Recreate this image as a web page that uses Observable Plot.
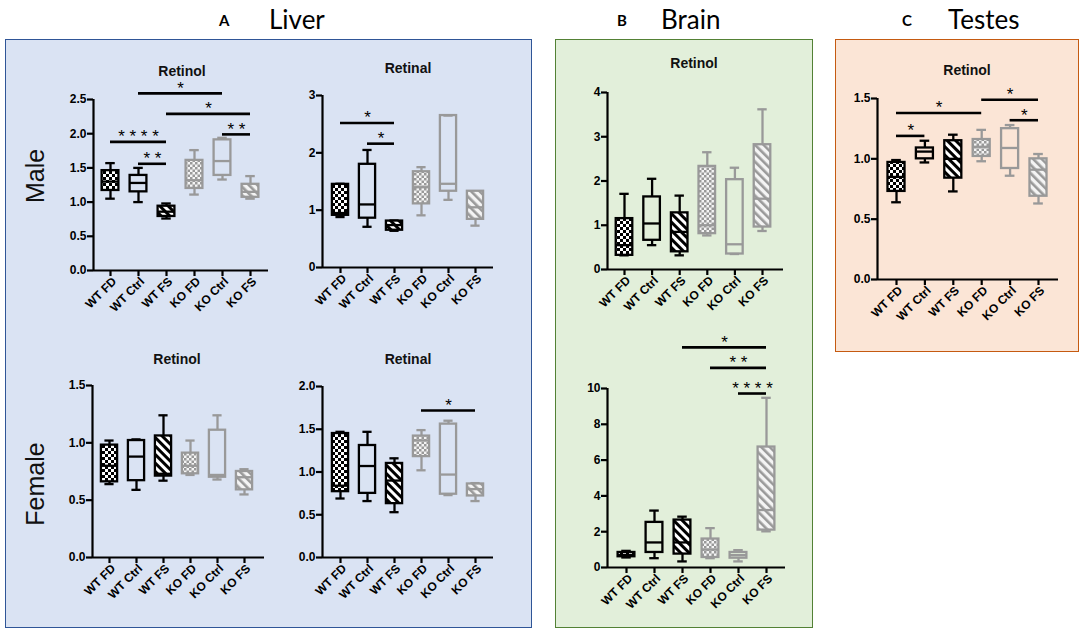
<!DOCTYPE html>
<html><head><meta charset="utf-8">
<script src="https://cdn.jsdelivr.net/npm/d3@7"></script>
<script src="https://cdn.jsdelivr.net/npm/@observablehq/plot@0.6"></script>
<style>
body{margin:0;background:#fff;}
#root{position:relative;width:1084px;height:635px;overflow:hidden;font-family:"Liberation Sans",Arial,sans-serif;background:#fff;}
.panel{position:absolute;box-sizing:border-box;}
.hdr{position:absolute;font-family:Lato,"Open Sans",sans-serif;line-height:1;white-space:nowrap;}
.ttl{position:absolute;transform:translate(-50%,-50%);font-weight:bold;font-size:14px;white-space:nowrap;color:#111;}
.side{position:absolute;font-size:25px;transform:translate(-50%,-50%) rotate(-90deg);white-space:nowrap;color:#111;}
.plot{position:absolute;}
</style></head><body><div id="root">
<svg width="0" height="0" style="position:absolute">
<defs>
<pattern id="chkK" width="6" height="6" patternUnits="userSpaceOnUse"><rect width="6" height="6" fill="#fff"/><rect width="3" height="3" fill="#000"/><rect x="3" y="3" width="3" height="3" fill="#000"/></pattern>
<pattern id="chkG" width="5" height="5" patternUnits="userSpaceOnUse"><rect width="5" height="5" fill="#f4f4f4"/><rect width="2.5" height="2.5" fill="#999"/><rect x="2.5" y="2.5" width="2.5" height="2.5" fill="#999"/></pattern>
<pattern id="strK" width="6" height="6" patternUnits="userSpaceOnUse" patternTransform="rotate(-45)"><rect width="6" height="6" fill="#fff"/><rect width="3" height="6" fill="#000"/></pattern>
<pattern id="strG" width="6" height="6" patternUnits="userSpaceOnUse" patternTransform="rotate(-45)"><rect width="6" height="6" fill="#f4f4f4"/><rect width="2.6" height="6" fill="#999"/></pattern>
</defs></svg>
</div>
<script>
// ---- data ----
const categories = ["WT FD", "WT Ctrl", "WT FS", "KO FD", "KO Ctrl", "KO FS"];
// each row: [min, q1, median, q3, max]
const liverMaleRetinol = [[1.05,1.17,1.30,1.46,1.57],[1.00,1.15,1.28,1.39,1.50],[0.76,0.79,0.86,0.94,0.98],[1.11,1.20,1.32,1.61,1.76],[1.33,1.39,1.60,1.91,1.94],[1.05,1.07,1.15,1.26,1.38]];
const liverMaleRetinal = [[0.88,0.91,0.95,1.45,1.46],[0.71,0.86,1.10,1.80,2.05],[0.64,0.65,0.74,0.81,0.82],[0.91,1.11,1.40,1.67,1.75],[1.18,1.33,1.46,2.65,2.65],[0.73,0.84,1.05,1.33,1.33]];
const liverFemaleRetinol = [[0.64,0.66,0.80,0.98,1.02],[0.59,0.67,0.88,1.02,1.03],[0.67,0.71,0.73,1.06,1.24],[0.72,0.73,0.80,0.91,1.02],[0.68,0.70,0.72,1.11,1.24],[0.55,0.59,0.70,0.75,0.77]];
const liverFemaleRetinal = [[0.69,0.77,0.84,1.45,1.47],[0.66,0.75,1.07,1.31,1.47],[0.53,0.63,0.90,1.10,1.16],[1.02,1.18,1.37,1.42,1.49],[0.73,0.74,0.97,1.56,1.60],[0.66,0.72,0.80,0.86,0.87]];
const brainRetinol = [[0.32,0.32,0.55,1.15,1.71],[0.55,0.66,1.04,1.64,2.05],[0.32,0.40,0.85,1.28,1.67],[0.77,0.81,1.00,2.33,2.65],[0.35,0.35,0.57,2.03,2.30],[0.87,0.96,1.60,2.82,3.62]];
const brainLower = [[0.56,0.60,0.70,0.84,0.93],[0.52,0.84,1.40,2.52,3.18],[0.34,0.75,1.40,2.65,2.84],[0.52,0.56,1.00,1.59,2.20],[0.34,0.52,0.69,0.84,0.97],[2.02,2.09,3.21,6.73,9.48]];
const testesRetinol = [[0.64,0.73,0.85,0.97,0.99],[0.97,1.00,1.06,1.09,1.15],[0.73,0.84,1.00,1.15,1.20],[0.98,1.02,1.10,1.16,1.24],[0.86,0.92,1.09,1.25,1.28],[0.63,0.69,0.91,1.00,1.04]];
// significance bars: [from group, to group, y, label]
const liverMaleRetinolSig = [[1,4,2.59,"*"],[2,5,2.29,"*"],[4,5,1.99,"**"],[0,2,1.88,"****"],[1,2,1.56,"**"]];
const liverMaleRetinalSig = [[0,2,2.52,"*"],[1,2,2.16,"*"]];
const liverFemaleRetinalSig = [[3,5,1.72,"*"]];
const brainLowerSig = [[2,5,12.3,"*"],[3,5,11.15,"**"],[4,5,9.72,"****"]];
const testesRetinolSig = [[0,3,1.38,"*"],[0,1,1.19,"*"],[3,5,1.49,"*"],[4,5,1.32,"*"]];
const ticksA = [0,0.5,1,1.5,2,2.5], ticksB = [0,1,2,3], ticksC = [0,0.5,1,1.5], ticksD = [0,0.5,1,1.5,2], ticksE = [0,1,2,3,4], ticksF = [0,2,4,6,8,10];

// ---- layout ----
const root = document.getElementById("root");
function div(cls, style, text) {
  const d = document.createElement("div");
  d.className = cls; Object.assign(d.style, style); if (text != null) d.textContent = text;
  root.appendChild(d); return d;
}
div("panel", {left:"5px", top:"39px", width:"527px", height:"589px", background:"#dae3f3", border:"1.6px solid #2f5597"});
div("panel", {left:"555px", top:"39px", width:"258px", height:"589px", background:"#e2efda", border:"1.6px solid #538135"});
div("panel", {left:"835px", top:"39px", width:"244px", height:"313px", background:"#fbe5d6", border:"1.6px solid #c55a11"});
div("hdr", {left:"219px", top:"13px", fontSize:"15px", fontWeight:"bold"}, "A");
div("hdr", {left:"269px", top:"6px", fontSize:"26px"}, "Liver");
div("hdr", {left:"617px", top:"13px", fontSize:"15px", fontWeight:"bold"}, "B");
div("hdr", {left:"661px", top:"6px", fontSize:"26px"}, "Brain");
div("hdr", {left:"902px", top:"13px", fontSize:"15px", fontWeight:"bold"}, "C");
div("hdr", {left:"948px", top:"6px", fontSize:"26px"}, "Testes");
div("side", {left:"35px", top:"176px"}, "Male");
div("side", {left:"35px", top:"484px"}, "Female");

const panels = [
  {data: liverMaleRetinol, sig: liverMaleRetinolSig, ticks: ticksA, fmt: ".1f", ax: 93, top: 99, bottom: 270, c0: 110, step: 28, xEnd: 268, title: "Retinol", tx: 182, ty: 71},
  {data: liverMaleRetinal, sig: liverMaleRetinalSig, ticks: ticksB, fmt: "d", ax: 322, top: 95, bottom: 267, c0: 340, step: 27, xEnd: 493, title: "Retinal", tx: 408, ty: 68},
  {data: liverFemaleRetinol, sig: [], ticks: ticksC, fmt: ".1f", ax: 92, top: 385, bottom: 557, c0: 109, step: 27, xEnd: 264, title: "Retinol", tx: 177, ty: 359},
  {data: liverFemaleRetinal, sig: liverFemaleRetinalSig, ticks: ticksD, fmt: ".1f", ax: 322, top: 386, bottom: 557, c0: 340, step: 27, xEnd: 493, title: "Retinal", tx: 408, ty: 359},
  {data: brainRetinol, sig: [], ticks: ticksE, fmt: "d", ax: 607, top: 92, bottom: 269, c0: 624, step: 27.6, xEnd: 783, title: "Retinol", tx: 694, ty: 63},
  {data: brainLower, sig: brainLowerSig, ticks: ticksF, fmt: "d", ax: 607, top: 388, bottom: 567, c0: 626, step: 28, xEnd: 785, title: null},
  {data: testesRetinol, sig: testesRetinolSig, ticks: ticksC, fmt: ".1f", ax: 877, top: 98, bottom: 279, c0: 896, step: 28.4, xEnd: 1058, title: "Retinol", tx: 967, ty: 70}
];

const fills = ["url(#chkK)", "none", "url(#strK)", "url(#chkG)", "none", "url(#strG)"];
const strokes = ["#000", "#000", "#000", "#999", "#999", "#999"];

for (const p of panels) {
  const mL = 38, mT = 72, mB = 66, mR = 14;
  const plotW = p.xEnd - p.ax, plotH = p.bottom - p.top;
  const xmin = -(p.c0 - p.ax) / p.step;
  const xmax = 5 + (p.xEnd - (p.c0 + 5 * p.step)) / p.step;
  const ymax = p.ticks[p.ticks.length - 1];
  const rows = p.data.map((r, i) => ({i, min: r[0], q1: r[1], med: r[2], q3: r[3], max: r[4], fill: fills[i], stroke: strokes[i]}));
  const sw = 2.3;
  const chart = Plot.plot({
    width: mL + plotW + mR, height: mT + plotH + mB,
    marginLeft: mL, marginTop: mT, marginBottom: mB, marginRight: mR,
    x: {domain: [xmin, xmax], range: [mL, mL + plotW]},
    y: {domain: [0, ymax], range: [mT + plotH, mT]},
    color: {type: "identity"},
    style: {background: "transparent", fontFamily: "'Liberation Sans', Arial, sans-serif", fontSize: "12px", fontWeight: "bold", overflow: "visible", color: "#000"},
    marks: [
      Plot.ruleX(rows, {x: "i", y1: "min", y2: "q1", stroke: "stroke", strokeWidth: sw}),
      Plot.ruleX(rows, {x: "i", y1: "q3", y2: "max", stroke: "stroke", strokeWidth: sw}),
      Plot.ruleY(rows, {y: "min", x1: d => d.i - 0.17, x2: d => d.i + 0.17, stroke: "stroke", strokeWidth: sw}),
      Plot.ruleY(rows, {y: "max", x1: d => d.i - 0.17, x2: d => d.i + 0.17, stroke: "stroke", strokeWidth: sw}),
      Plot.rect(rows, {x1: d => d.i - 0.3, x2: d => d.i + 0.3, y1: "q1", y2: "q3", fill: "fill", stroke: "stroke", strokeWidth: sw}),
      Plot.ruleY(rows, {y: "med", x1: d => d.i - 0.3, x2: d => d.i + 0.3, stroke: "stroke", strokeWidth: sw}),
      Plot.ruleX([xmin], {y1: 0, y2: ymax, stroke: "#000", strokeWidth: 2.2}),
      Plot.ruleY([0], {x1: xmin, x2: xmax, stroke: "#000", strokeWidth: 2.2}),
      Plot.axisY({ticks: p.ticks, tickFormat: d3.format(p.fmt), tickSize: 6, tickPadding: 1, strokeWidth: 2.2, label: null, fontSize: 12}),
      Plot.axisX({ticks: [0,1,2,3,4,5], tickSize: 6, strokeWidth: 2.2, tickFormat: () => "", label: null}),
      Plot.axisX({ticks: [0,1,2,3,4,5], tickFormat: i => categories[i], tickRotate: -45, tickSize: 0, tickPadding: 9, dx: 4, label: null, fontSize: 12}),
      Plot.ruleY(p.sig, {y: d => d[2], x1: d => d[0], x2: d => d[1], stroke: "#000", strokeWidth: 2.6}),
      Plot.text(p.sig, {x: d => (d[0] + d[1]) / 2, y: d => d[2], text: d => d[3].split("").join(" "), dy: -5, fontSize: 17, fontWeight: "normal", fill: "#000"})
    ]
  });
  chart.classList.add("plot");
  chart.style.left = (p.ax - mL) + "px";
  chart.style.top = (p.top - mT) + "px";
  root.appendChild(chart);
  if (p.title) div("ttl", {left: p.tx + "px", top: p.ty + "px"}, p.title);
}
</script></body></html>
